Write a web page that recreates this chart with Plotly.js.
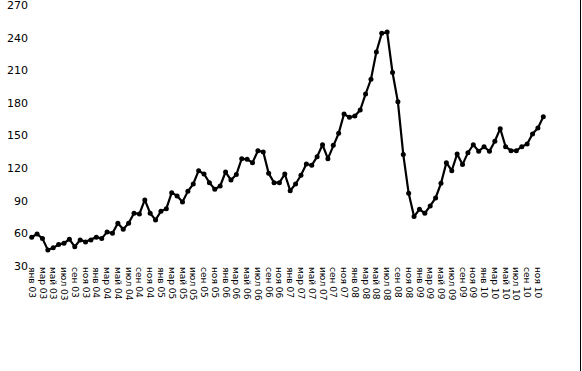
<!DOCTYPE html>
<html>
<head>
<meta charset="utf-8">
<script src="https://cdn.plot.ly/plotly-3.0.1.min.js"></script>
<style>html,body{margin:0;padding:0;background:#fff;}#chart{width:582px;height:371px;}</style>
</head>
<body>
<div id="chart"></div>
<script>
// Monthly values, Jan 2003 - Dec 2010
const values = [
  56.4, 59.4, 55.1, 44.7, 46.6, 49.6, 50.9, 54.5, 47.7, 53.9, 52.1, 53.9,
  56.4, 55.1, 61.3, 60.1, 69.3, 63.7, 69.3, 78.5, 77.8, 90.7, 78.5, 72.3,
  80.3, 82.7, 97.4, 94.4, 88.9, 98.7, 105.4, 117.6, 114.6, 106.6, 100.5, 103.6,
  116.4, 109.1, 114.0, 128.7, 128.1, 125.0, 136.0, 134.8, 115.2, 106.6, 106.6, 114.6,
  99.2, 105.4, 113.4, 123.8, 122.6, 130.5, 141.5, 128.7, 141.0, 152.0, 169.8, 166.7,
  167.9, 173.4, 188.2, 201.7, 226.8, 244.0, 245.2, 208.0, 181.0, 132.4, 96.8, 75.4,
  82.1, 78.5, 85.2, 92.5, 106.0, 125.0, 117.6, 133.0, 123.2, 134.2, 141.5, 135.5,
  139.7, 135.5, 144.7, 156.3, 139.7, 136.0, 136.0, 139.7, 142.2, 151.4, 156.9, 167.3
];
const monthIndex = values.map((v, i) => i);
// Tick labels (every second month)
const tickLabels = [
  "янв 03","мар 03","май 03","июл 03","сен 03","ноя 03",
  "янв 04","мар 04","май 04","июл 04","сен 04","ноя 04",
  "янв 05","мар 05","май 05","июл 05","сен 05","ноя 05",
  "янв 06","мар 06","май 06","июл 06","сен 06","ноя 06",
  "янв 07","мар 07","май 07","июл 07","сен 07","ноя 07",
  "янв 08","мар 08","май 08","июл 08","сен 08","ноя 08",
  "янв 09","мар 09","май 09","июл 09","сен 09","ноя 09",
  "янв 10","мар 10","май 10","июл 10","сен 10","ноя 10"
];
const tickPositions = tickLabels.map((t, i) => i * 2);
const yTicks = [30, 60, 90, 120, 150, 180, 210, 240, 270];

const trace = {
  x: monthIndex,
  y: values,
  type: 'scatter',
  mode: 'lines+markers',
  line: {color: '#000000', width: 2.2},
  marker: {color: '#000000', size: 5, symbol: 'circle'},
  hoverinfo: 'skip',
  cliponaxis: false
};

const layout = {
  width: 582, height: 371,
  margin: {l: 29, r: 36, t: 5, b: 105, pad: 0},
  paper_bgcolor: '#ffffff', plot_bgcolor: '#ffffff',
  showlegend: false,
  font: {family: 'DejaVu Sans, Verdana, sans-serif', color: '#000000'},
  xaxis: {
    range: [-0.5, 95.5],
    tickmode: 'array', tickvals: tickPositions, ticktext: tickLabels,
    tickangle: 90, tickfont: {size: 9, family: 'DejaVu Sans', color: '#000'},
    showgrid: false, zeroline: false, showline: false, ticks: '',
    ticklabeloverflow: 'allow',
    fixedrange: true
  },
  yaxis: {
    range: [29.9, 270.1],
    tickmode: 'array', tickvals: yTicks,
    tickfont: {size: 11, family: 'DejaVu Sans', color: '#000'},
    showgrid: false, zeroline: false, showline: false, ticks: '',
    ticklabeloverflow: 'allow',
    fixedrange: true
  },
  shapes: [{
    type: 'line', xref: 'paper', yref: 'paper',
    x0: (580.5 - 29) / 517, x1: (580.5 - 29) / 517,
    y0: -105 / 261, y1: 1 + 5 / 261,
    line: {color: '#000000', width: 1}
  }]
};

Plotly.newPlot('chart', [trace], layout, {displayModeBar: false, staticPlot: true});
</script>
</body>
</html>
